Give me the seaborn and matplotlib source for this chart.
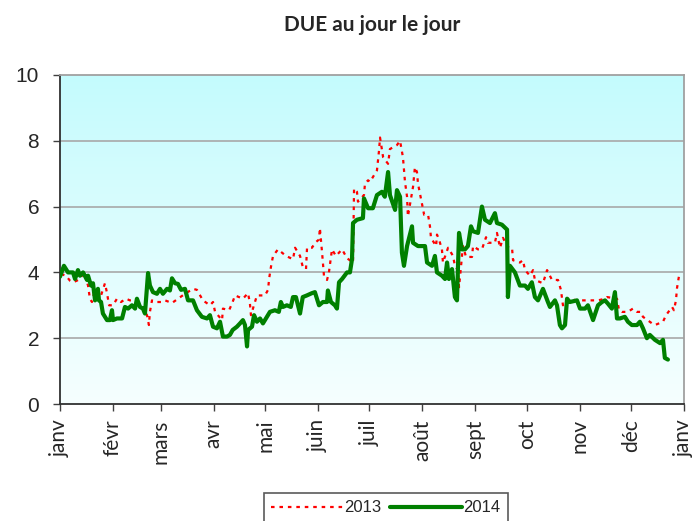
import numpy as np
import pandas as pd
import seaborn as sns
import matplotlib.pyplot as plt
from matplotlib.colors import LinearSegmentedColormap

# day of year (0 = 1 janv) and DUE values
days_2013 = [0.6, 3.5, 5.8, 7.6, 9.9, 11.7, 14, 16.4, 17.5, 18.7, 20.5, 22.2, 24, 26.3, 27.5, 28.7,
             31, 33.3, 35.7, 38.6, 40.9, 43.9, 46.8, 48.5, 50.9, 52, 52.6, 53.8, 55.6, 59.7, 61.4,
             65.5, 69, 73.1, 77.8, 80.1, 83.6, 87.7, 89.5, 90.7, 94.8, 95.3, 98.9, 100.6, 102.4,
             107, 110, 111.1, 111.7, 115.2, 119.9, 121.7, 122.3, 123.4, 124.6, 127.5, 129.9, 132.2,
             136.3, 137.5, 140.4, 142, 143.9, 144.5, 147.4, 149.2, 151.5, 152, 153.3, 154.4, 156.2,
             157.3, 159.1, 161.4, 165, 167.9, 171.4, 172, 173.7, 174.3, 177.8, 178.4, 180.2, 181.3,
             185.4, 186.6, 187.2, 189, 191.9, 193, 197.1, 198.9, 200.6, 201.8, 203, 203.5, 206.5,
             207.6, 208.8, 209.4, 211.7, 213, 215.3, 216.4, 217, 220, 220.5, 221.7, 223.4, 224, 227,
             229.9, 231, 232.8, 233.4, 235.7, 237.5, 241, 241.6, 244.5, 246.8, 249.2, 250.3, 254.4,
             255.6, 257.4, 259.1, 262, 264.4, 265, 269, 270.8, 272, 274.9, 276.7, 277.8, 282.5,
             284.9, 287.8, 291.3, 293, 294.2, 297.1, 302.4, 307.1, 311.2, 314.7, 318.8, 320, 325.8,
             327, 328.7, 332.2, 335.1, 337.5, 339.8, 341, 346.3, 348, 352.7, 354.5, 358, 359.1,
             360.3, 360.9, 362, 363.2]
vals_2013 = [3.95, 3.9, 3.75, 3.7, 3.75, 3.8, 4.0, 3.6, 3.2, 3.1, 3.5, 3.4, 3.3, 3.67, 3.37, 3.0,
             3.0, 3.2, 3.1, 3.2, 3.15, 3.15, 3.0, 2.9, 2.7, 2.4, 2.8, 3.15, 3.1, 3.1, 3.15,
             3.07, 3.2, 3.35, 3.5, 3.47, 3.15, 3.0, 3.1, 2.8, 2.55, 2.9, 2.85, 3.05, 3.3,
             3.2, 3.37, 3.05, 2.7, 3.3, 3.3, 3.47, 3.8, 4.17, 4.5, 4.7, 4.6, 4.5,
             4.4, 4.75, 4.5, 4.17, 4.1, 4.75, 4.75, 4.9, 5.0, 5.35, 4.6, 3.9, 3.77,
             4.0, 4.7, 4.5, 4.7, 4.43, 4.3, 6.55, 6.45, 6.15, 6.35, 6.7, 6.8, 6.75,
             7.1, 7.7, 8.1, 7.5, 7.3, 7.75, 7.87, 8.0, 7.5, 6.75, 6.3, 5.7, 6.6,
             7.2, 7.05, 6.7, 6.1, 5.75, 5.75, 5.4, 5.05, 4.8, 5.15, 5.0, 4.7, 4.3, 4.75,
             4.5, 4.2, 4.07, 3.55, 4.8, 4.47, 4.47, 4.8, 4.7, 4.7, 5.07, 4.9, 4.9,
             5.2, 4.75, 5.05, 4.77, 4.75, 4.37, 4.3, 4.37, 4.07, 3.9, 4.07, 3.77, 3.67,
             4.07, 3.77, 3.77, 3.47, 3.0, 3.2, 3.15, 3.15, 3.15, 3.15, 3.2, 3.25, 3.2,
             2.85, 2.8, 2.8, 2.9, 2.8, 2.8, 2.65, 2.45, 2.4, 2.5, 2.7, 2.95, 2.85,
             3.15, 3.52, 3.87, 4.0]

days_2014 = [0, 2.3, 4.7, 7.6, 8.8, 10.5, 11.7, 13.5, 15.8, 16.4, 18.1, 19.3, 20.5, 22.2, 22.8, 24,
             25.1, 27.5, 29.2, 30.4, 31, 33.3, 36.3, 38, 39.8, 42.1, 43.9, 45, 46.8, 48.5, 49.7,
             51.5, 52.6, 54.4, 56.7, 58.5, 60.2, 62.6, 64.3, 65.5, 67.3, 69, 70.8, 73.1, 74.9,
             77.8, 80.1, 83, 86, 87.7, 89.5, 91.8, 93.6, 95.3, 97.7, 99.4, 101, 103.5, 105.3,
             107, 108.2, 109.4, 110, 112.3, 113.5, 115.2, 117, 118.7, 121, 122.8, 125.7, 128,
             129.2, 130.4, 132.7, 135, 136.3, 138, 140.4, 142, 144.4, 147.4, 149.1, 151.5, 153.8,
             156.2, 156.7, 158.5, 160.8, 162, 163.2, 165, 167.9, 169.6, 170.8, 171.4, 173.7, 177.2,
             177.8, 180.2, 183, 185.4, 188.3, 190, 191.9, 193, 196, 197.1, 198.9, 200, 201.2,
             203, 205.9, 206.5, 209.4, 213.5, 214.7, 217.6, 219.3, 220.5, 223.4, 225.2, 226.4,
             227.5, 229.3, 231, 232.2, 233.4, 235.1, 236.9, 238.6, 240.4, 241.6, 244.5, 246.8,
             248.6, 251.5, 254.4, 255.6, 258.5, 261.5, 262, 263.2, 266.1, 269, 272, 273.7, 276,
             277.8, 279.6, 282.5, 285.4, 286.6, 289.5, 290.7, 292.4, 293.6, 295.4, 296.6, 298.2,
             302.4, 304.2, 307.1, 308.8, 311.8, 314.7, 317, 318.8, 320.5, 322.8, 324.6, 325.8,
             327.5, 330.4, 332.2, 334.5, 337.5, 339.2, 341, 343.3, 345, 348, 351, 352.7, 353.8,
             355.6]
vals_2014 = [3.87, 4.2, 4.0, 4.0, 3.8, 4.07, 3.9, 4.0, 3.77, 3.9, 3.6, 3.67, 3.15, 3.5, 3.15, 3.1,
             2.75, 2.55, 2.55, 2.85, 2.55, 2.6, 2.6, 2.95, 2.9, 3.0, 2.9, 3.2, 2.95, 2.9, 2.75,
             3.98, 3.6, 3.4, 3.35, 3.5, 3.35, 3.5, 3.45, 3.82, 3.67, 3.65, 3.47, 3.5, 3.15,
             3.15, 2.85, 2.65, 2.6, 2.7, 2.35, 2.3, 2.5, 2.05, 2.05, 2.1, 2.25, 2.35, 2.45,
             2.55, 2.4, 1.75, 2.25, 2.35, 2.7, 2.5, 2.6, 2.45, 2.65, 2.8, 2.85, 2.8,
             3.1, 2.95, 3.0, 2.95, 3.25, 3.25, 2.75, 3.25, 3.3, 3.37, 3.4, 3.0, 3.1,
             3.1, 3.45, 3.1, 3.0, 2.9, 3.7, 3.8, 4.0, 4.0, 4.4, 5.5, 5.6, 5.65,
             6.25, 5.95, 5.95, 6.35, 6.45, 6.3, 7.05, 6.35, 5.9, 6.5, 6.3, 4.6, 4.2,
             4.8, 5.4, 4.9, 4.8, 4.8, 4.3, 4.2, 4.5, 4.0, 3.9, 3.8, 4.3,
             3.8, 4.1, 3.25, 3.15, 5.2, 4.7, 4.7, 4.8, 5.4, 5.25, 5.2, 6.0,
             5.6, 5.5, 5.8, 5.5, 5.45, 5.3, 3.25, 4.2, 4.0, 3.6, 3.6, 3.5, 3.7,
             3.25, 3.15, 3.5, 3.1, 2.95, 3.15, 3.0, 2.4, 2.3, 2.4, 3.2, 3.1,
             3.15, 2.9, 2.9, 3.0, 2.55, 3.0, 3.1, 3.15, 3.05, 2.9, 3.4, 2.6,
             2.6, 2.65, 2.5, 2.4, 2.4, 2.5, 2.3, 2.0, 2.1, 1.95, 1.85, 1.95, 1.4,
             1.35]

month_starts = [0, 31, 59, 90, 120, 151, 181, 212, 243, 273, 304, 334, 365]
month_labels = ['janv', 'févr', 'mars', 'avr', 'mai', 'juin', 'juil', 'août',
                'sept', 'oct', 'nov', 'déc', 'janv']

df = pd.concat([
    pd.DataFrame({'jour': days_2013, 'DUE': vals_2013, 'annee': '2013'}),
    pd.DataFrame({'jour': days_2014, 'DUE': vals_2014, 'annee': '2014'}),
])

sns.set_style('white')
plt.rcParams['font.family'] = ['Liberation Sans', 'DejaVu Sans']

fig = plt.figure(figsize=(6.99, 5.21), dpi=100)
ax = fig.add_axes([60 / 699, 1 - 404 / 521, 624 / 699, 329 / 521])

# gradient background of the plot area
cmap = LinearSegmentedColormap.from_list('bg', ['#f6ffff', '#c4fbfd'])
ax.imshow(np.linspace(0, 1, 256).reshape(-1, 1), cmap=cmap, origin='lower',
          extent=[0, 365, 0, 10], aspect='auto', zorder=0)

for y in [2, 4, 6, 8]:
    ax.axhline(y, color='#a8a8a8', lw=1.2, zorder=1)

sns.lineplot(data=df[df.annee == '2013'], x='jour', y='DUE', ax=ax, color='#ff0000',
             lw=1.6, linestyle=(0, (1.6, 2.2)), label='2013', zorder=3, estimator=None)
sns.lineplot(data=df[df.annee == '2014'], x='jour', y='DUE', ax=ax, color='#008000',
             lw=3, label='2014', zorder=4, estimator=None)

ax.set_xlim(0, 365)
ax.set_ylim(0, 10)
ax.set_xticks(month_starts)
ax.set_xticklabels(month_labels, rotation=90, fontsize=15, family=['Lato', 'DejaVu Sans'])
ax.set_yticks([0, 2, 4, 6, 8, 10])
ax.set_yticklabels(['0', '2', '4', '6', '8', '10'], fontsize=15)
ax.tick_params(axis='both', direction='out', length=5, width=1, color='#404040',
               bottom=True, left=True)
ax.tick_params(axis='y', pad=10)
ax.tick_params(axis='x', pad=6)
ax.set_xlabel('')
ax.set_ylabel('')

for side in ['left', 'bottom']:
    ax.spines[side].set_color('#303030')
    ax.spines[side].set_linewidth(1.3)
for side in ['top', 'right']:
    ax.spines[side].set_color('#a0a0a0')
    ax.spines[side].set_linewidth(1.3)

fig.suptitle('DUE au jour le jour', x=0.533, y=0.972, fontsize=15, fontweight='bold',
             family=['Lato', 'DejaVu Sans'])

ax.get_legend().remove()
h, l = ax.get_legend_handles_labels()
leg = fig.legend(h, l, loc='upper center', bbox_to_anchor=(0.552, 0.054), ncol=2,
                 frameon=True, fancybox=False, edgecolor='#303030', fontsize=12,
                 handlelength=4.3, handletextpad=0.1, columnspacing=0.5,
                 borderpad=0.45, borderaxespad=0)
leg.get_frame().set_linewidth(1.2)

fig.savefig('out.png', dpi=100)
